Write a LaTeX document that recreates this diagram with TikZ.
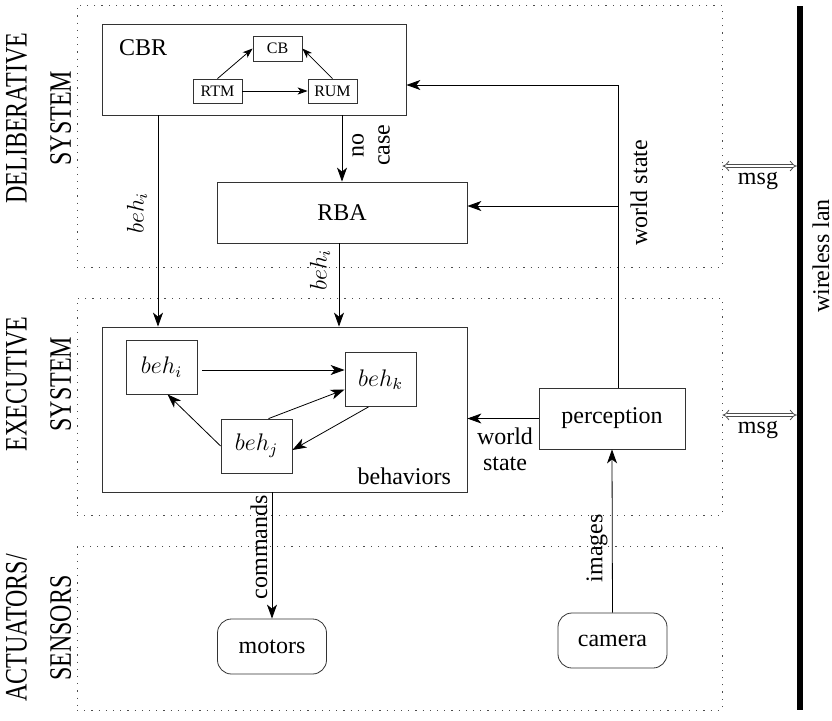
\documentclass[tikz,border=0pt]{standalone}
\usepackage{fontspec}
\setmainfont{Liberation Serif}
\usetikzlibrary{arrows.meta}

\newcommand{\tallcaps}[1]{\scalebox{1}[1.3]{\begin{tabular}{@{}c@{}}#1\end{tabular}}}

\begin{document}
\begin{tikzpicture}[x=0.5pt,y=-0.5pt,font=\fontsize{12}{13}\selectfont,
  blk/.style={draw=black!80,inner sep=0pt},
  minibox/.style={blk,font=\fontsize{8}{9}\selectfont,minimum width=24.5pt,minimum height=12.5pt},
  behbox/.style={blk,minimum width=35.5pt,minimum height=27pt},
  dev/.style={blk,rounded corners=7pt,minimum width=54.5pt,minimum height=27.5pt},
  zone/.style={draw=black!70,dash pattern=on 0.6pt off 3pt,inner sep=0pt,minimum width=322.5pt},
  zonelbl/.style={rotate=90,inner sep=0pt,font=\fontsize{12}{17}\selectfont},
  arr/.style={-{Stealth[length=7pt,width=5pt,inset=2pt]}},
  sarr/.style={-{Stealth[length=5pt,width=3.6pt,inset=1.4pt]}},
  msgarr/.style={draw=black!70,double,double distance=1.4pt,arrows={Implies-Implies},shorten >=1.6pt}]
\useasboundingbox (0,0) rectangle (832,720);

%\draw[help lines,step=50] (0,0) grid (832,720);

% layers
\node[zone,minimum height=131pt] (delib) at (399.5,136) {};
\node[zone,minimum height=108.5pt] (exec) at (399.5,406.5) {};
\node[zone,minimum height=82pt] (act) at (399.5,628) {};

\node[zonelbl] (ldelib) at (40,118) {\tallcaps{DELIBERATIVE\\SYSTEM}};
\node[zonelbl] (lexec) at (40,384) {\tallcaps{EXECUTIVE\\SYSTEM}};
\node[zonelbl] (lact) at (40,628) {\tallcaps{ACTUATORS/\\SENSORS}};

% deliberative system
\node[blk,minimum width=152pt,minimum height=45.5pt] (cbr) at (254,69.5) {};
\node[anchor=west] (cbrlbl) at (112,48) {CBR};
\node[minibox] (cb) at (277.5,48.5) {CB};
\node[minibox,minimum height=12pt] (rtm) at (217.5,91) {RTM};
\node[minibox,minimum height=12pt] (rum) at (332.5,91) {RUM};
\node[blk,minimum width=125pt,minimum height=30.5pt] (rba) at (342,212.5) {RBA};

\draw[sarr] (rtm.north) -- (cb.west);
\draw[sarr] (rum.north) -- (cb.east);
\draw[sarr] (rtm) -- (rum);

% executive system
\node[blk,minimum width=182.5pt,minimum height=82.5pt] (beh) at (284.5,409.5) {};
\node[anchor=south east] (behlbl) at (458,492) {behaviors};
\node[behbox] (behi) at (161.5,367) {$beh_i$};
\node[behbox] (behk) at (380.5,379.5) {$beh_k$};
\node[behbox] (behj) at (256.5,446) {$beh_j$};
\node[blk,minimum width=73pt,minimum height=30.5pt] (perc) at (612,418.5) {perception};

\draw[arr] ([xshift=2.5pt]behi.east |- 0,370) -- (behk.west |- 0,370);
\draw[arr] (behj.west) -- ([xshift=3pt]behi.south);
\draw[arr] ([xshift=6pt]behj.north) -- ([yshift=-5pt]behk.west);
\draw[arr] ([xshift=-6pt]behk.south) -- ([yshift=-2pt]behj.east);

% actuators / sensors
\node[dev] (mot) at (272,646.5) {motors};
\node[dev] (cam) at (612.5,640.5) {camera};

% connections
\coordinate (c1) at (158,0);
\coordinate (c2) at (618,85);
\draw[arr] (cbr.south -| c1) -- (beh.north -| c1);
\node[rotate=90] (l1) at (137,213) {$beh_i$};
\draw[arr] (cbr.south -| rba) -- (rba.north);
\node[rotate=90,align=center] (l2) at (371,145) {no\\case};
\draw[arr] (rba.south -| 339,0) -- (beh.north -| 339,0);
\node[rotate=90] (l3) at (320,270) {$beh_i$};

\draw (perc.north -| c2) -- (c2);
\draw[arr] (c2) -- (cbr.east |- c2);
\draw[arr] (c2 |- 0,206) -- (rba.east |- 0,206);
\node[rotate=90] (l4) at (639,193) {world state};
\draw[arr] (perc.west) -- (beh.east |- perc);
\node[align=center] (l5) at (505,449) {world\\state};

\draw[arr] (cam.north) -- (perc.south);
\node[rotate=90] (l6) at (597,548) {images};
\draw[arr] (beh.south -| mot) -- (mot.north);
\node[rotate=90] (l7) at (259,547) {commands};

% wireless lan
\coordinate (lan1) at (800,6);
\coordinate (lan2) at (800,710);
\draw[line width=3pt] (lan1) -- (lan2);
\node[rotate=90] (l8) at (821,256) {wireless lan};
\coordinate (m1) at (0,166);
\coordinate (m2) at (0,415);
\draw[msgarr] (delib.east |- m1) -- (lan1 |- m1);
\draw[msgarr] (exec.east |- m2) -- (lan1 |- m2);
\node (msg1) at (758,181) {msg};
\node (msg2) at (758,430) {msg};

\end{tikzpicture}
\end{document}
